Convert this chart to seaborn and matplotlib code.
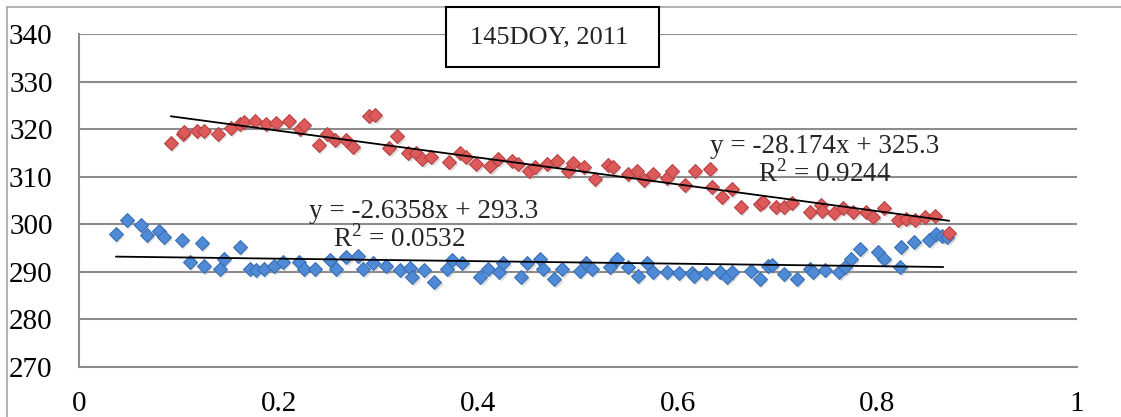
import numpy as np
import pandas as pd
import matplotlib
matplotlib.use("Agg")
import matplotlib.pyplot as plt
import matplotlib.transforms as mtransforms
from matplotlib.patches import Rectangle
from matplotlib.lines import Line2D
import seaborn as sns

# ---------------- data ----------------
red_x = [0.092, 0.104, 0.105, 0.118, 0.125, 0.139, 0.152, 0.161, 0.165, 0.176,
         0.187, 0.197, 0.210, 0.221, 0.225, 0.240, 0.248, 0.257, 0.268, 0.275,
         0.291, 0.297, 0.311, 0.319, 0.330, 0.338, 0.344, 0.353, 0.371, 0.382,
         0.388, 0.398, 0.412, 0.420, 0.434, 0.440, 0.451, 0.457, 0.469, 0.479,
         0.490, 0.495, 0.506, 0.517, 0.530, 0.535, 0.550, 0.559, 0.566, 0.575,
         0.589, 0.594, 0.607, 0.617, 0.632, 0.634, 0.644, 0.654, 0.663, 0.682,
         0.685, 0.698, 0.706, 0.714, 0.732, 0.743, 0.744, 0.757, 0.766, 0.776,
         0.789, 0.796, 0.807, 0.821, 0.829, 0.838, 0.848, 0.858, 0.872]
red_y = [317.0, 318.9, 319.3, 319.7, 319.6, 319.0, 320.3, 321.1, 321.4, 321.8,
         321.1, 321.2, 321.8, 320.1, 320.9, 316.7, 319.0, 317.7, 317.7, 316.3,
         322.8, 323.0, 316.0, 318.5, 315.0, 315.0, 313.7, 314.1, 313.0, 314.9,
         314.1, 312.6, 312.3, 313.7, 313.2, 312.6, 311.3, 312.0, 312.6, 313.2,
         311.1, 312.9, 312.1, 309.5, 312.5, 312.0, 310.5, 311.1, 309.3, 310.5,
         309.7, 311.1, 308.3, 311.3, 311.6, 307.9, 305.8, 307.4, 303.7, 304.3,
         304.7, 303.7, 303.6, 304.4, 302.6, 304.1, 302.8, 302.4, 303.4, 302.6,
         302.6, 301.6, 303.4, 300.9, 301.1, 300.8, 301.5, 301.7, 298.1]

blue_x = [0.037, 0.048, 0.062, 0.068, 0.080, 0.085, 0.103, 0.111, 0.123, 0.125,
          0.141, 0.145, 0.161, 0.171, 0.177, 0.185, 0.195, 0.204, 0.220, 0.225,
          0.236, 0.252, 0.258, 0.268, 0.280, 0.285, 0.295, 0.308, 0.322, 0.332,
          0.334, 0.346, 0.356, 0.369, 0.374, 0.384, 0.402, 0.410, 0.421, 0.425,
          0.443, 0.449, 0.462, 0.465, 0.476, 0.484, 0.502, 0.508, 0.514, 0.532,
          0.539, 0.550, 0.560, 0.569, 0.575, 0.589, 0.601, 0.614, 0.616, 0.628,
          0.642, 0.649, 0.654, 0.673, 0.682, 0.690, 0.694, 0.706, 0.719, 0.732,
          0.735, 0.747, 0.762, 0.768, 0.774, 0.783, 0.801, 0.807, 0.823, 0.824,
          0.837, 0.852, 0.859, 0.865, 0.870]
blue_y = [297.9, 300.8, 299.9, 297.7, 298.6, 297.3, 296.8, 292.0, 296.1, 291.3,
          290.6, 292.6, 295.3, 290.6, 290.4, 290.7, 291.3, 292.0, 292.0, 290.6,
          290.6, 292.5, 290.6, 293.1, 293.3, 290.6, 291.8, 291.2, 290.4, 290.9,
          288.9, 290.4, 287.9, 290.7, 292.5, 291.8, 289.0, 290.7, 290.0, 291.8,
          289.0, 291.9, 292.8, 290.5, 288.6, 290.5, 290.2, 291.9, 290.5, 291.1,
          292.8, 291.1, 289.2, 291.9, 290.0, 290.0, 289.7, 289.7, 289.1, 289.7,
          290.0, 289.0, 290.0, 290.2, 288.6, 291.2, 291.4, 289.5, 288.6, 290.7,
          290.0, 290.4, 290.0, 291.1, 292.6, 294.9, 294.2, 292.8, 291.1, 295.3,
          296.3, 296.8, 298.0, 297.5, 297.3]

# trendline coefficients (as printed on the chart)
red_slope, red_icpt, red_r2 = -28.174, 325.3, 0.9244
blue_slope, blue_icpt, blue_r2 = -2.6358, 293.3, 0.0532

title_text = "145DOY, 2011"
y_ticks = [270, 280, 290, 300, 310, 320, 330, 340]
x_ticks = [0, 0.2, 0.4, 0.6, 0.8, 1]
x_ticklabels = ["0", "0.2", "0.4", "0.6", "0.8", "1"]

# ---------------- figure ----------------
sns.set_style("white")
plt.rcParams["font.family"] = ["Liberation Serif", "DejaVu Serif"]
plt.rcParams["mathtext.fontset"] = "custom"
plt.rcParams["mathtext.rm"] = "Liberation Serif"

W, H = 1121, 417
fig = plt.figure(figsize=(W / 100, H / 100), dpi=100)
ax = fig.add_axes([79 / W, 1 - 367 / H, (1077 - 79) / W, (367 - 34) / H])

grid_c = "#8c8c8c"
for yt in y_ticks:
    ax.axhline(yt, color=grid_c, lw=1.5, zorder=0)

red_df = pd.DataFrame({"x": red_x, "y": red_y})
blue_df = pd.DataFrame({"x": blue_x, "y": blue_y})

msize = 50
shadow = mtransforms.offset_copy(ax.transData, fig=fig, x=1.5, y=-2.0, units="dots")
for df in (blue_df, red_df):
    sns.scatterplot(data=df, x="x", y="y", ax=ax, marker="D", s=msize,
                    color="#9a9a9a", alpha=0.35, linewidth=0, transform=shadow,
                    zorder=2, legend=False)

sns.scatterplot(data=blue_df, x="x", y="y", ax=ax, marker="D", s=msize,
                color="#4f8ad6", edgecolor="#3a6fb4", linewidth=0.8,
                zorder=3, legend=False)
sns.scatterplot(data=red_df, x="x", y="y", ax=ax, marker="D", s=msize,
                color="#dc5a59", edgecolor="#b84343", linewidth=0.8,
                zorder=3, legend=False)

# trend lines
rx = np.array([min(red_x), max(red_x)])
bx = np.array([min(blue_x), max(blue_x) - 0.004])
sns.lineplot(x=rx, y=red_slope * rx + red_icpt, ax=ax, color="black", lw=1.3,
             zorder=4, legend=False)
sns.lineplot(x=bx, y=blue_slope * bx + blue_icpt, ax=ax, color="black", lw=1.3,
             zorder=4, legend=False)

ax.set_xlim(0, 1)
ax.set_ylim(270, 340)
ax.set_xticks(x_ticks)
ax.set_xticklabels(x_ticklabels)
ax.set_yticks(y_ticks)
ax.set_xlabel("")
ax.set_ylabel("")

for s in ("top", "right"):
    ax.spines[s].set_visible(False)
for s in ("left", "bottom"):
    ax.spines[s].set_color(grid_c)
    ax.spines[s].set_linewidth(1.5)

ax.tick_params(axis="both", which="major", direction="out", length=6,
               width=1.5, color=grid_c, labelsize=21, labelcolor="black")
ax.tick_params(axis="y", pad=13)
ax.tick_params(axis="x", pad=11)
ax.grid(False)

# equations
eq_fs = 19.5
ax.text(0.345, 302.7, f"y = {blue_slope}x + {blue_icpt}", ha="center", va="center",
        fontsize=eq_fs, zorder=5)
ax.text(0.321, 297.0, f"R$^2$ = {blue_r2:.4f}", ha="center", va="center",
        fontsize=eq_fs, zorder=5)
ax.text(0.747, 316.4, f"y = {red_slope}x + {red_icpt}", ha="center", va="center",
        fontsize=eq_fs, zorder=5)
ax.text(0.747, 310.6, f"R$^2$ = {red_r2:.4f}", ha="center", va="center",
        fontsize=eq_fs, zorder=5)

# title box
fig.patches.append(Rectangle((446 / W, 1 - 67 / H), (659 - 446) / W, 60 / H,
                             transform=fig.transFigure, facecolor="white",
                             edgecolor="black", lw=1.5, zorder=10))
fig.text(549 / W, 1 - 37 / H, title_text, ha="center", va="center",
         fontsize=19, zorder=11)

# outer chart frame (top & left)
frame_c = "#a6a6a6"
fig.add_artist(Line2D([7 / W, 1.0], [1 - 7 / H, 1 - 7 / H], transform=fig.transFigure,
                      color=frame_c, lw=1.2))
fig.add_artist(Line2D([7 / W, 7 / W], [0.0, 1 - 7 / H], transform=fig.transFigure,
                      color=frame_c, lw=1.2))

fig.savefig("out.png", dpi=100)
